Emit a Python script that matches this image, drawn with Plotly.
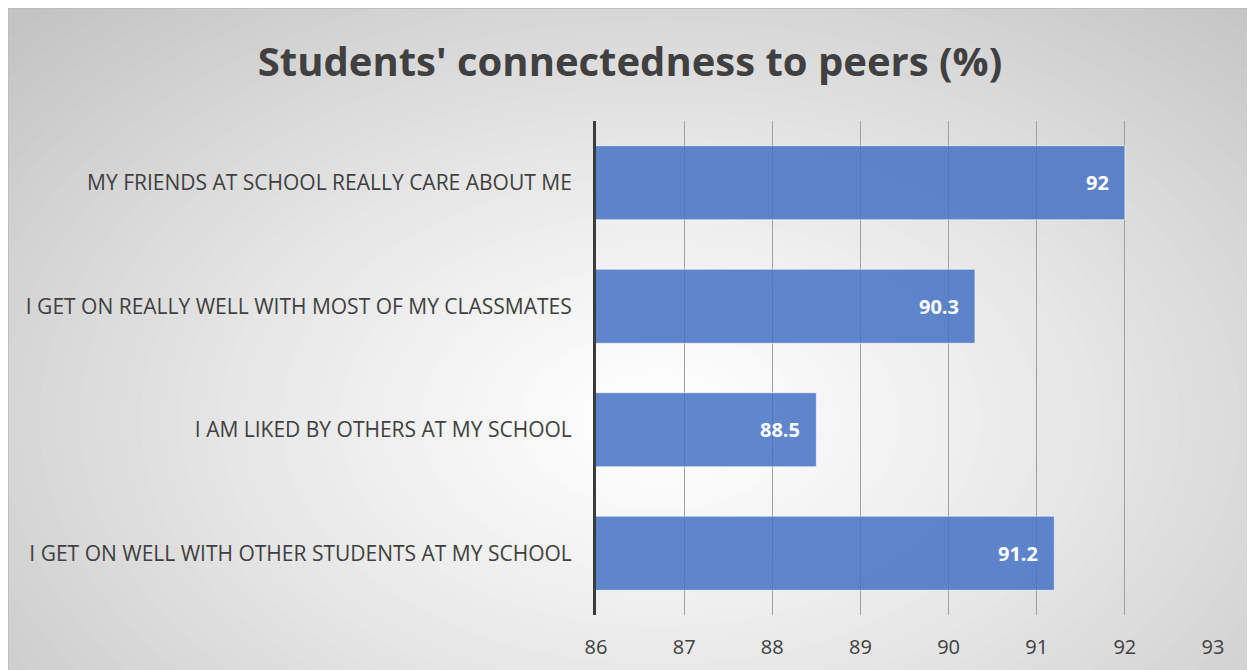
import plotly.graph_objects as go

categories = [
    "MY FRIENDS AT SCHOOL REALLY CARE ABOUT ME",
    "I GET ON REALLY WELL WITH MOST OF MY CLASSMATES",
    "I AM LIKED BY OTHERS AT MY SCHOOL",
    "I GET ON WELL WITH OTHER STUDENTS AT MY SCHOOL",
]
values = [92, 90.3, 88.5, 91.2]
title_text = "Students' connectedness to peers (%)"
x_ticks = [86, 87, 88, 89, 90, 91, 92, 93]

OFF = 8  # page body margin
W, H = 1255 - OFF, 670 - OFF
L, R, T, B = 588, 42, 113, 55
PW, PH = W - L - R, H - T - B

def px2x(px):
    return (px - OFF - L) / PW

def py2y(py):
    return (H - B - (py - OFF)) / PH

FONT = "Open Sans"

fig = go.Figure()
fig.add_trace(go.Bar(
    x=values, y=categories, orientation="h",
    marker=dict(color="rgba(68,114,196,0.85)", line=dict(color="rgba(255,255,255,0.6)", width=1)),
    width=0.6, hoverinfo="skip",
))

for v, c in zip(values, categories):
    fig.add_annotation(x=v, y=c, xref="x", yref="y", text="<b>%g</b>" % v,
                       xanchor="right", showarrow=False, xshift=-14,
                       font=dict(family=FONT, size=20, color="white"))

shapes = []
x0, x1 = px2x(OFF), px2x(1255)
y0, y1 = py2y(670), py2y(OFF)
shapes.append(dict(type="rect", xref="paper", yref="paper", x0=x0, x1=x1, y0=y0, y1=y1,
                   fillcolor="rgb(196,196,196)", line=dict(width=0), layer="below"))
cx, cy = 660, 420
rx, ry = 900, 580
N = 45
for i in range(N):
    t = 1 - i / N
    g = int(round(255 - 60 * t ** 1.2))
    shapes.append(dict(type="circle", xref="paper", yref="paper",
                       x0=px2x(cx - rx * t), x1=px2x(cx + rx * t),
                       y0=py2y(cy + ry * t), y1=py2y(cy - ry * t),
                       fillcolor="rgb(%d,%d,%d)" % (g, g, g), line=dict(width=0), layer="below"))
shapes.append(dict(type="line", xref="paper", yref="paper", x0=x0, x1=x0, y0=y0, y1=y1,
                   line=dict(color="rgb(190,190,190)", width=2), layer="below"))
shapes.append(dict(type="line", xref="paper", yref="paper", x0=x0, x1=x1, y0=y1, y1=y1,
                   line=dict(color="rgb(190,190,190)", width=2), layer="below"))
fig.update_layout(shapes=shapes)

fig.update_layout(
    width=W, height=H,
    margin=dict(l=L, r=R, t=T, b=B, pad=0),
    paper_bgcolor="white", plot_bgcolor="rgba(0,0,0,0)",
    showlegend=False,
    title=dict(text="<b>" + title_text + "</b>", x=(630 - OFF) / W, xref="container", xanchor="center",
               y=1 - (62 - OFF) / H, yref="container", yanchor="middle",
               font=dict(family=FONT, size=40, color="rgb(64,64,64)")),
    xaxis=dict(range=[86, 93], tickvals=x_ticks, showgrid=True, gridcolor="rgb(160,160,160)",
               gridwidth=1, zeroline=False, showline=False, ticks="", automargin=False,
               tickfont=dict(family=FONT, size=20, color="rgb(64,64,64)"),
               ticklabelstandoff=18),
    yaxis=dict(autorange="reversed", showgrid=False, zeroline=False, automargin=False,
               showline=True, linecolor="rgb(60,60,60)", linewidth=3, ticks="",
               tickfont=dict(family=FONT, size=21, color="rgb(64,64,64)"),
               ticklabelstandoff=17),
    bargap=0.4,
)

fig.write_html("out.html")
